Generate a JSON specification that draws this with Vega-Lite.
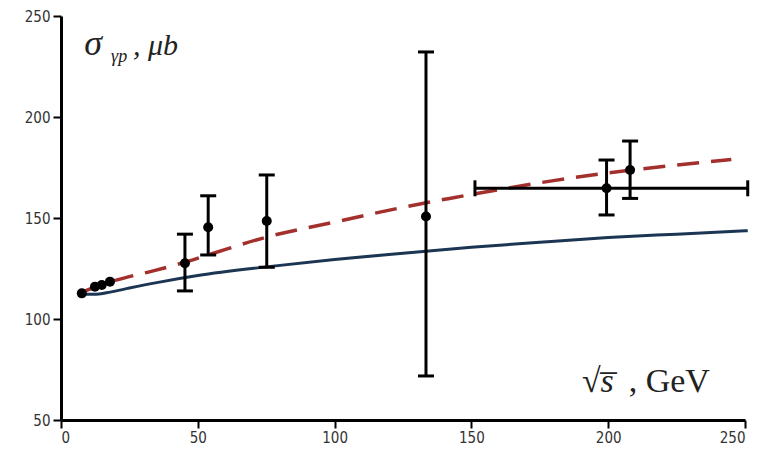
{
  "$schema": "https://vega.github.io/schema/vega-lite/v6.json",
  "width": 684,
  "height": 404,
  "autosize": "none",
  "padding": {"left": 61, "top": 16, "right": 18, "bottom": 33},
  "background": "white",
  "config": {"view": {"stroke": null}},
  "datasets": {
    "points": [
      {"s": 7.6, "sigma": 112.7},
      {"s": 12.4, "sigma": 116},
      {"s": 14.9, "sigma": 116.8},
      {"s": 17.9, "sigma": 118.5},
      {"s": 45.3, "sigma": 127.6, "lo": 113.9, "hi": 142},
      {"s": 53.8, "sigma": 145.4, "lo": 131.7, "hi": 161},
      {"s": 75.2, "sigma": 148.5, "lo": 125.6, "hi": 171.3},
      {"s": 133.4, "sigma": 150.7, "lo": 71.8, "hi": 232.2},
      {"s": 199.4, "sigma": 164.7, "lo": 151.5, "hi": 178.7, "xlo": 151.3, "xhi": 251},
      {"s": 208, "sigma": 173.8, "lo": 159.7, "hi": 188.1}
    ],
    "dashed": [
      {"s": 7, "sigma": 112.8}, {"s": 10, "sigma": 114.5}, {"s": 17, "sigma": 118},
      {"s": 25, "sigma": 121}, {"s": 33, "sigma": 123.6}, {"s": 45, "sigma": 128},
      {"s": 54, "sigma": 131.8}, {"s": 75, "sigma": 140.5}, {"s": 100, "sigma": 148},
      {"s": 124, "sigma": 155}, {"s": 142, "sigma": 159.7}, {"s": 160, "sigma": 164},
      {"s": 180, "sigma": 168.5}, {"s": 200, "sigma": 172.3}, {"s": 220, "sigma": 175.5},
      {"s": 245, "sigma": 179}
    ],
    "solid": [
      {"s": 8, "sigma": 112.4}, {"s": 12, "sigma": 112.2}, {"s": 18, "sigma": 113.3},
      {"s": 25, "sigma": 115.3}, {"s": 35, "sigma": 118}, {"s": 50, "sigma": 121.5},
      {"s": 75, "sigma": 125.8}, {"s": 100, "sigma": 129.5}, {"s": 125, "sigma": 132.6},
      {"s": 150, "sigma": 135.5}, {"s": 175, "sigma": 138}, {"s": 200, "sigma": 140.3},
      {"s": 225, "sigma": 142}, {"s": 251, "sigma": 143.7}
    ],
    "one": [{}]
  },
  "layer": [
    {
      "data": {"name": "solid"},
      "mark": {"type": "line", "color": "#1c3553", "strokeWidth": 3, "interpolate": "monotone", "clip": false},
      "encoding": {
        "x": {"field": "s", "type": "quantitative",
          "scale": {"domain": [0, 250], "nice": false},
          "axis": {"values": [0, 50, 100, 150, 200, 250], "title": null, "grid": false,
            "domainColor": "black", "domainWidth": 3, "tickColor": "black", "tickWidth": 2, "tickSize": 8,
            "labelColor": "#333", "labelFont": "DejaVu Sans Condensed, Liberation Sans, sans-serif", "labelFontSize": 15, "labelPadding": 2}},
        "y": {"field": "sigma", "type": "quantitative",
          "scale": {"domain": [50, 250], "nice": false, "zero": false},
          "axis": {"values": [50, 100, 150, 200, 250], "title": null, "grid": false,
            "domainColor": "black", "domainWidth": 3, "tickColor": "black", "tickWidth": 2, "tickSize": 8,
            "labelColor": "#333", "labelFont": "DejaVu Sans Condensed, Liberation Sans, sans-serif", "labelFontSize": 15, "labelPadding": 3}}
      }
    },
    {
      "data": {"name": "dashed"},
      "mark": {"type": "line", "color": "#a3302c", "strokeWidth": 3.5, "strokeDash": [22, 12], "interpolate": "monotone"},
      "encoding": {
        "x": {"field": "s", "type": "quantitative"},
        "y": {"field": "sigma", "type": "quantitative"}
      }
    },
    {
      "data": {"name": "points"},
      "transform": [{"filter": "isValid(datum.lo)"}],
      "mark": {"type": "rule", "color": "black", "strokeWidth": 3},
      "encoding": {
        "x": {"field": "s", "type": "quantitative"},
        "y": {"field": "lo", "type": "quantitative"},
        "y2": {"field": "hi"}
      }
    },
    {
      "data": {"name": "points"},
      "transform": [{"filter": "isValid(datum.lo)"}],
      "mark": {"type": "tick", "color": "black", "thickness": 3, "size": 16, "orient": "horizontal", "opacity": 1},
      "encoding": {
        "x": {"field": "s", "type": "quantitative"},
        "y": {"field": "lo", "type": "quantitative"}
      }
    },
    {
      "data": {"name": "points"},
      "transform": [{"filter": "isValid(datum.hi)"}],
      "mark": {"type": "tick", "color": "black", "thickness": 3, "size": 16, "orient": "horizontal", "opacity": 1},
      "encoding": {
        "x": {"field": "s", "type": "quantitative"},
        "y": {"field": "hi", "type": "quantitative"}
      }
    },
    {
      "data": {"name": "points"},
      "transform": [{"filter": "isValid(datum.xlo)"}],
      "mark": {"type": "rule", "color": "black", "strokeWidth": 3, "clip": false},
      "encoding": {
        "x": {"field": "xlo", "type": "quantitative"},
        "x2": {"field": "xhi"},
        "y": {"field": "sigma", "type": "quantitative"}
      }
    },
    {
      "data": {"name": "points"},
      "transform": [{"filter": "isValid(datum.xlo)"}, {"fold": ["xlo", "xhi"], "as": ["k", "xe"]}],
      "mark": {"type": "tick", "color": "black", "thickness": 3, "size": 16, "orient": "vertical", "opacity": 1, "clip": false},
      "encoding": {
        "x": {"field": "xe", "type": "quantitative"},
        "y": {"field": "sigma", "type": "quantitative"}
      }
    },
    {
      "data": {"name": "points"},
      "mark": {"type": "circle", "color": "black", "size": 100, "opacity": 1},
      "encoding": {
        "x": {"field": "s", "type": "quantitative"},
        "y": {"field": "sigma", "type": "quantitative"}
      }
    },
    {
      "data": {"name": "one"},
      "mark": {"type": "text", "text": "σ", "font": "Liberation Serif", "fontStyle": "italic", "fontSize": 36, "align": "left", "baseline": "alphabetic", "color": "#222"},
      "encoding": {"x": {"datum": 8.5, "type": "quantitative"}, "y": {"datum": 230.7, "type": "quantitative"}}
    },
    {
      "data": {"name": "one"},
      "mark": {"type": "text", "text": "γp", "font": "Liberation Serif", "fontStyle": "italic", "fontSize": 18, "align": "left", "baseline": "alphabetic", "color": "#222"},
      "encoding": {"x": {"datum": 18.3, "type": "quantitative"}, "y": {"datum": 227.4, "type": "quantitative"}}
    },
    {
      "data": {"name": "one"},
      "mark": {"type": "text", "text": ", μb", "font": "Liberation Serif", "fontStyle": "italic", "fontSize": 30, "align": "left", "baseline": "alphabetic", "color": "#222"},
      "encoding": {"x": {"datum": 26.3, "type": "quantitative"}, "y": {"datum": 230.7, "type": "quantitative"}}
    },
    {
      "data": {"name": "one"},
      "mark": {"type": "text", "text": "√s̅", "font": "Liberation Serif", "fontStyle": "italic", "fontSize": 34, "align": "left", "baseline": "alphabetic", "color": "#222"},
      "encoding": {"x": {"datum": 190.4, "type": "quantitative"}, "y": {"datum": 64, "type": "quantitative"}}
    },
    {
      "data": {"name": "one"},
      "mark": {"type": "text", "text": ", GeV", "font": "Liberation Serif", "fontSize": 34, "align": "left", "baseline": "alphabetic", "color": "#222"},
      "encoding": {"x": {"datum": 207.5, "type": "quantitative"}, "y": {"datum": 64, "type": "quantitative"}}
    }
  ]
}
